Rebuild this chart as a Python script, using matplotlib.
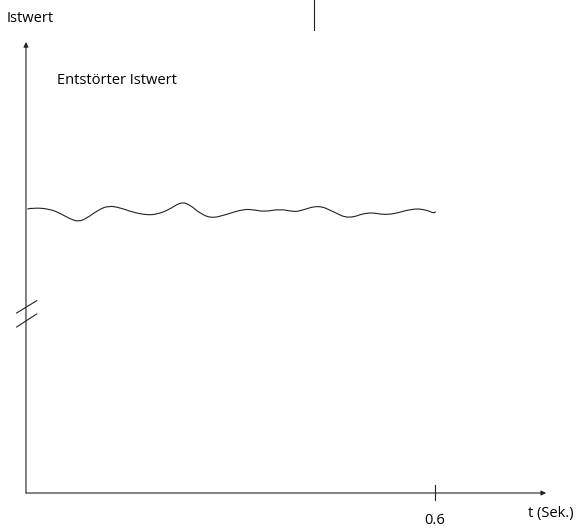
import matplotlib
matplotlib.use("Agg")
import matplotlib.pyplot as plt
from matplotlib.path import Path
from matplotlib.patches import PathPatch

t_sec = [0.002, 0.011, 0.035, 0.050, 0.065, 0.077, 0.089, 0.106, 0.121, 0.138,
         0.157, 0.177, 0.192, 0.209, 0.228, 0.241, 0.255, 0.272, 0.292, 0.319,
         0.336, 0.350, 0.373, 0.392, 0.402, 0.429, 0.451, 0.473, 0.502, 0.531,
         0.568, 0.588, 0.598, 0.601]
istwert = [284.0, 285.3, 284.0, 279.7, 274.0, 271.3, 274.7, 283.0, 287.3, 285.3,
           280.7, 278.0, 278.7, 283.0, 291.3, 288.0, 279.7, 274.7, 278.0, 284.0,
           283.0, 281.3, 284.0, 281.3, 282.0, 288.0, 281.3, 274.0, 281.3, 277.3,
           284.7, 283.0, 279.7, 281.3]
x_ticks = [0.6]
x_tick_labels = ["0.6"]

plt.rcParams['font.family'] = ['Open Sans', 'DejaVu Sans']

fig = plt.figure(figsize=(5.77, 5.30), dpi=100)
ax = fig.add_axes([0, 0, 1, 1])
ax.set_xlim(-0.0381, 0.8083)
ax.set_ylim(-37, 530 - 37)
ax.axis('off')

lw = 0.8
col = '#222222'
fs = 10.5

# axes with arrow heads
ax.annotate('', xy=(0.763, 0), xytext=(0, 0),
            arrowprops=dict(arrowstyle='-|>', lw=lw, color=col, mutation_scale=7,
                            shrinkA=0, shrinkB=0))
ax.annotate('', xy=(0, 451), xytext=(0, 0),
            arrowprops=dict(arrowstyle='-|>', lw=lw, color=col, mutation_scale=7,
                            shrinkA=0, shrinkB=0))

# axis break marks
ax.plot([-0.0137, 0.0157], [180, 192.3], color=col, lw=lw)
ax.plot([-0.0137, 0.0157], [166, 179], color=col, lw=lw)

# tick at 0.6
for xt, lab in zip(x_ticks, x_tick_labels):
    ax.plot([xt, xt], [-7, 8], color=col, lw=lw)
    ax.text(xt, -28, lab, ha='center', va='center', fontsize=fs)

ax.text(0.770, -21, 't (Sek.)', ha='center', va='center', fontsize=fs)
ax.text(-0.029, 475, 'Istwert', ha='left', va='center', fontsize=fs)
ax.text(0.045, 413, 'Entstörter Istwert', ha='left', va='center', fontsize=fs)

# separator line at top
ax.plot([0.4225, 0.4225], [463, 493], color=col, lw=lw)

# smooth curve through the read points (quadratic segments via midpoints)
pts = list(zip(t_sec, istwert))
verts = [pts[0]]
codes = [Path.MOVETO]
for i in range(1, len(pts) - 1):
    mid = ((pts[i][0] + pts[i + 1][0]) / 2, (pts[i][1] + pts[i + 1][1]) / 2)
    verts += [pts[i], mid]
    codes += [Path.CURVE3, Path.CURVE3]
verts.append(pts[-1])
codes.append(Path.LINETO)
ax.add_patch(PathPatch(Path(verts, codes), fill=False, lw=lw, edgecolor=col))

fig.savefig('out.png', dpi=100)
